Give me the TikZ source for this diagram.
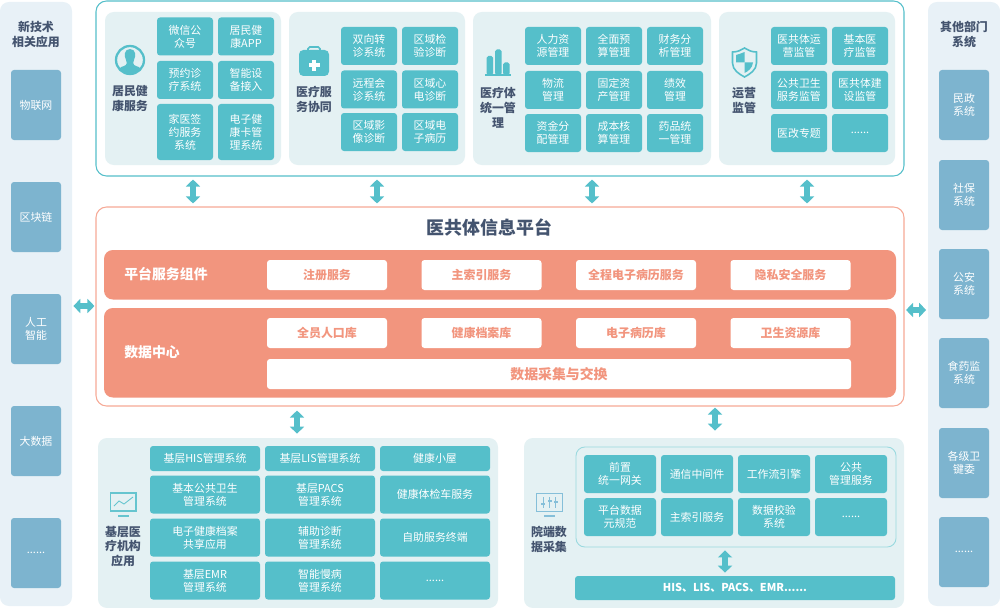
\documentclass[tikz,border=0pt]{standalone}
\usepackage{fontspec}
\usepackage{tikz}
\usetikzlibrary{arrows.meta}
\setmainfont{Noto Sans CJK SC}

\definecolor{cellc}{HTML}{55BFCA}
\definecolor{sidebox}{HTML}{7DB4CF}
\definecolor{sidepanel}{HTML}{E8F1F7}
\definecolor{panelc}{HTML}{E4F1F3}
\definecolor{bandc}{HTML}{F2957E}
\definecolor{edgec}{HTML}{F6A996}
\definecolor{titlec}{HTML}{44546F}
\definecolor{screenc}{HTML}{85BFD9}

\tikzset{
    cell/.style 2 args={fill=cellc, text=white, rounded corners=1.7pt, inner sep=0pt, align=center,
        minimum width=#1*0.02cm, minimum height=#2*0.02cm,
        font=\fontsize{6.2}{7.4}\selectfont},
    side/.style={fill=sidebox, text=white, rounded corners=1.7pt, inner sep=0pt, align=center,
        minimum width=50*0.02cm, minimum height=70*0.02cm,
        font=\fontsize{6.2}{7.4}\selectfont},
    area/.style 2 args={fill=panelc, rounded corners=5pt, inner sep=0pt,
        minimum width=#1*0.02cm, minimum height=#2*0.02cm},
    sidearea/.style={fill=sidepanel, rounded corners=5pt, inner sep=0pt,
        minimum width=72*0.02cm, minimum height=604*0.02cm},
    frame/.style 2 args={fill=white, rounded corners=6pt, inner sep=0pt, line width=0.6pt,
        minimum width=#1*0.02cm, minimum height=#2*0.02cm},
    band/.style 2 args={fill=bandc, rounded corners=5pt, inner sep=0pt,
        minimum width=#1*0.02cm, minimum height=#2*0.02cm},
    slot/.style={fill=white, text=bandc, rounded corners=1.7pt, inner sep=0pt, minimum width=120*0.02cm,
        minimum height=30*0.02cm, font=\fontsize{6.8}{8}\selectfont\bfseries},
    head/.style={text=titlec, inner sep=0pt, align=center, font=\fontsize{6.8}{8.5}\selectfont\bfseries},
    bandhead/.style={text=white, inner sep=0pt, anchor=west, font=\fontsize{7.9}{9}\selectfont\bfseries},
    both/.style={draw=cellc, line width=3.9pt, >={Triangle[width=8pt,length=4pt]}, <->, shorten <=#1*0.02cm, shorten >=#1*0.02cm},
    both/.default=3
}

\begin{document}
\begin{tikzpicture}[x=0.02cm,y=-0.02cm]
    \useasboundingbox (0,0) rectangle (1000,608);
    % Side panels
    \node[sidearea] (leftpanel) at (36,304) {};
    \node[sidearea] (rightpanel) at (964,304) {};
    \node[head] (lefthead) at (36,34.5) {新技术\\相关应用};
    \node[head] (righthead) at (964,34.5) {其他部门\\系统};
    \node[side] (iot) at (36,105) {物联网};
    \node[side] (chain) at (36,217) {区块链};
    \node[side] (ai) at (36,329) {人工\\智能};
    \node[side] (bigdata) at (36,441) {大数据};
    \node[side] (leftmore) at (36,553) {......};
    \node[side] (civil) at (964,105) {民政\\系统};
    \node[side] (social) at (964,195) {社保\\系统};
    \node[side] (police) at (964,284) {公安\\系统};
    \node[side] (food) at (964,373) {食药监\\系统};
    \node[side] (health) at (964,463) {各级卫\\键委};
    \node[side] (rightmore) at (964,552) {......};

    % Top frame
    \node[frame={808}{175}, draw=cellc] (topframe) at (500,88.5) {};
    \node[area={176}{153}] (resident) at (193,88.5) {};
    \node[area={176}{153}] (cooperate) at (377,88.5) {};
    \node[area={238}{153}] (manage) at (592,88.5) {};
    \node[area={176}{153}] (supervise) at (807,88.5) {};
    \node[head] (residenthead) at (130,98.5) {居民健\\康服务};
    \node[head] (cooperatehead) at (314,99.5) {医疗服\\务协同};
    \node[head] (managehead) at (498,108) {医疗体\\统一管\\理};
    \node[head] (supervisehead) at (744,100.5) {运营\\监管};
    % Resident cells
    \node[cell={56}{38}] (r1) at (185,36.5) {微信公\\众号};
    \node[cell={56}{38}] (r2) at (246,36.5) {居民健\\康APP};
    \node[cell={56}{38}] (r3) at (185,80) {预约诊\\疗系统};
    \node[cell={56}{38}] (r4) at (246,80) {智能设\\备接入};
    \node[cell={56}{56}] (r5) at (185,132) {家医签\\约服务\\系统};
    \node[cell={56}{56}] (r6) at (246,132) {电子健\\康卡管\\理系统};
    % Cooperate cells
    \node[cell={56}{38}] (c1) at (369,46) {双向转\\诊系统};
    \node[cell={56}{38}] (c2) at (430,46) {区域检\\验诊断};
    \node[cell={56}{38}] (c3) at (369,89.5) {远程会\\诊系统};
    \node[cell={56}{38}] (c4) at (430,89.5) {区域心\\电诊断};
    \node[cell={56}{38}] (c5) at (369,132) {区域影\\像诊断};
    \node[cell={56}{38}] (c6) at (430,132) {区域电\\子病历};
    % Manage cells
    \node[cell={56}{38}] (m1) at (553,46) {人力资\\源管理};
    \node[cell={56}{38}] (m2) at (614,46) {全面预\\算管理};
    \node[cell={56}{38}] (m3) at (675,46) {财务分\\析管理};
    \node[cell={56}{38}] (m4) at (553,90) {物流\\管理};
    \node[cell={56}{38}] (m5) at (614,90) {固定资\\产管理};
    \node[cell={56}{38}] (m6) at (675,90) {绩效\\管理};
    \node[cell={56}{38}] (m7) at (553,133) {资金分\\配管理};
    \node[cell={56}{38}] (m8) at (614,133) {成本核\\算管理};
    \node[cell={56}{38}] (m9) at (675,133) {药品统\\一管理};
    % Supervise cells
    \node[cell={56}{38}] (s1) at (799,46) {医共体运\\营监管};
    \node[cell={56}{38}] (s2) at (860,46) {基本医\\疗监管};
    \node[cell={56}{38}] (s3) at (799,90) {公共卫生\\服务监管};
    \node[cell={56}{38}] (s4) at (860,90) {医共体建\\设监管};
    \node[cell={56}{38}] (s5) at (799,133) {医改专题};
    \node[cell={56}{38}] (s6) at (860,133) {......};

    % Platform
    \node[frame={808}{199}, draw=edgec] (platform) at (500,306.5) {};
    \node[text=titlec, inner sep=0pt, font=\fontsize{10.2}{12}\selectfont\bfseries] (platformhead) at (489.5,227.5) {医共体信息平台};
    \node[band={792}{49.5}] (serviceband) at (500,274.75) {};
    \node[band={792}{89.5}] (databand) at (500,352.75) {};
    \node[bandhead] (servicehead) at (124,274.5) {平台服务组件};
    \node[bandhead] (datahead) at (124,352.5) {数据中心};
    \node[slot] (register) at (327,275) {注册服务};
    \node[slot] (index) at (481.5,275) {主索引服务};
    \node[slot] (record) at (636,275) {全程电子病历服务};
    \node[slot] (privacy) at (790.5,275) {隐私安全服务};
    \node[slot] (people) at (327,333) {全员人口库};
    \node[slot] (archive) at (481.5,333) {健康档案库};
    \node[slot] (emrbase) at (636,333) {电子病历库};
    \node[slot] (resource) at (790.5,333) {卫生资源库};
    \node[slot, minimum width=584*0.02cm, font=\fontsize{7.9}{9}\selectfont\bfseries] (exchange) at (559,374) {数据采集与交换};

    % Grassroots panel
    \node[area={400}{170}] (grass) at (298,523) {};
    \node[head] (grasshead) at (123,546.5) {基层医\\疗机构\\应用};
    \node[cell={110}{25}] (g1) at (205,458.5) {基层HIS管理系统};
    \node[cell={110}{25}] (g2) at (320,458.5) {基层LIS管理系统};
    \node[cell={110}{25}] (g3) at (435,458.5) {健康小屋};
    \node[cell={110}{38}] (g4) at (205,494.5) {基本公共卫生\\管理系统};
    \node[cell={110}{38}] (g5) at (320,494.5) {基层PACS\\管理系统};
    \node[cell={110}{38}] (g6) at (435,494.5) {健康体检车服务};
    \node[cell={110}{38}] (g7) at (205,537.5) {电子健康档案\\共享应用};
    \node[cell={110}{38}] (g8) at (320,537.5) {辅助诊断\\管理系统};
    \node[cell={110}{38}] (g9) at (435,537.5) {自助服务终端};
    \node[cell={110}{38}] (g10) at (205,580.5) {基层EMR\\管理系统};
    \node[cell={110}{38}] (g11) at (320,580.5) {智能慢病\\管理系统};
    \node[cell={110}{38}] (g12) at (435,580.5) {......};

    % Hospital panel
    \node[area={380}{170}] (hospital) at (714,523) {};
    \node[area={320}{100}, draw=cellc!60, line width=0.5pt] (gateway) at (736,497) {};
    \node[head] (hospitalhead) at (549,539.5) {院端数\\据采集};
    \node[cell={72}{38}] (h1) at (620,474) {前置\\统一网关};
    \node[cell={72}{38}] (h2) at (697,474) {通信中间件};
    \node[cell={72}{38}] (h3) at (774,474) {工作流引擎};
    \node[cell={72}{38}] (h4) at (851,474) {公共\\管理服务};
    \node[cell={72}{38}] (h5) at (620,517) {平台数据\\元规范};
    \node[cell={72}{38}] (h6) at (697,517) {主索引服务};
    \node[cell={72}{38}] (h7) at (774,517) {数据校验\\系统};
    \node[cell={72}{38}] (h8) at (851,517) {......};
    \node[cell={320}{24}, font=\fontsize{6.2}{8}\selectfont\bfseries] (sources) at (735,588) {HIS、LIS、PACS、EMR......};

    % Arrows
    \coordinate (u1) at (193,0);
    \coordinate (u2) at (377,0);
    \coordinate (u3) at (592,0);
    \coordinate (u4) at (807,0);
    \coordinate (d1) at (297,0);
    \coordinate (d2) at (715,0);
    \coordinate (d3) at (725,0);
    \coordinate (l1) at (0,306);
    \coordinate (l2) at (0,310);
    \draw[both] (u1 |- topframe.south) -- (u1 |- platform.north);
    \draw[both] (u2 |- topframe.south) -- (u2 |- platform.north);
    \draw[both] (u3 |- topframe.south) -- (u3 |- platform.north);
    \draw[both] (u4 |- topframe.south) -- (u4 |- platform.north);
    \draw[both=4] (d1 |- platform.south) -- (d1 |- grass.north);
    \draw[both=3, shorten >=7*0.02cm, shorten <=1*0.02cm] (d2 |- platform.south) -- (d2 |- hospital.north);
    \draw[both=3] (d3 |- gateway.south) -- (d3 |- sources.north);
    \draw[both=1] (l1 -| leftpanel.east) -- (l1 -| platform.west);
    \draw[both=1.5] (l2 -| platform.east) -- (l2 -| rightpanel.west);

    % Icons
    \draw[cellc, line width=1.3pt] (130,60) circle (14);
    \begin{scope}
        \clip (130,60) circle (14);
        \fill[cellc] (130,49) .. controls (124,49) and (124,56) .. (126,60) .. controls (127,63) and (127,65) .. (124,66)
            .. controls (120,67) and (118,69) .. (117,75) -- (143,75) .. controls (142,69) and (140,67) .. (136,66)
            .. controls (133,65) and (133,63) .. (134,60) .. controls (136,56) and (136,49) .. (130,49) -- cycle;
    \end{scope}
    \draw[cellc, line width=0.9pt, rounded corners=1pt] (308,51) -- (308,47) -- (320,47) -- (320,51);
    \fill[cellc, rounded corners=2.5pt] (299,50) rectangle (329,76);
    \fill[white] (312,60) rectangle (316,71);
    \fill[white] (308.5,63.5) rectangle (319.5,67.5);
    \fill[cellc, rounded corners=1pt] (486.5,56) rectangle (493,75);
    \fill[cellc, rounded corners=1pt] (495,49.5) rectangle (501.5,75);
    \fill[cellc, rounded corners=1pt] (503,62.5) rectangle (509.5,75);
    \fill[cellc] (485,74.5) rectangle (511,76);
    \draw[cellc, line width=0.9pt] (732.5,52) .. controls (738,52) and (741,50) .. (744.5,48) .. controls (748,50) and (751,52) .. (756.5,52)
        -- (756.5,63) .. controls (756.5,70) and (750,74) .. (744.5,77) .. controls (739,74) and (732.5,70) .. (732.5,63) -- cycle;
    \fill[cellc] (744.5,52) .. controls (741,53.5) and (738,54.5) .. (736,55) -- (736,62.5) -- (744.5,62.5) -- cycle;
    \fill[cellc] (744.5,62.5) -- (753,62.5) .. controls (752.5,68) and (748,71.5) .. (744.5,73) -- cycle;
    \draw[cellc!90, line width=1pt, fill=panelc] (110.5,493) rectangle (136,511);
    \draw[cellc!90, line width=0.5pt] (114,506) -- (119,501) -- (124,504) -- (133,497);
    \fill[cellc!90] (118,514.5) rectangle (129,516.5);
    \draw[screenc, line width=1pt, fill=panelc] (536.5,493.5) rectangle (562.5,511.5);
    \draw[screenc, line width=0.4pt] (543,497) -- (543,508);
    \draw[screenc, line width=0.4pt] (549.5,497) -- (549.5,508);
    \draw[screenc, line width=0.4pt] (555.5,497) -- (555.5,508);
    \fill[screenc] (541,503) rectangle (545,504.5);
    \fill[screenc] (547.5,500) rectangle (551.5,501.5);
    \fill[screenc] (553.5,501) rectangle (557.5,502.5);
    \fill[screenc] (544,514.5) rectangle (555,516.5);
\end{tikzpicture}
\end{document}
